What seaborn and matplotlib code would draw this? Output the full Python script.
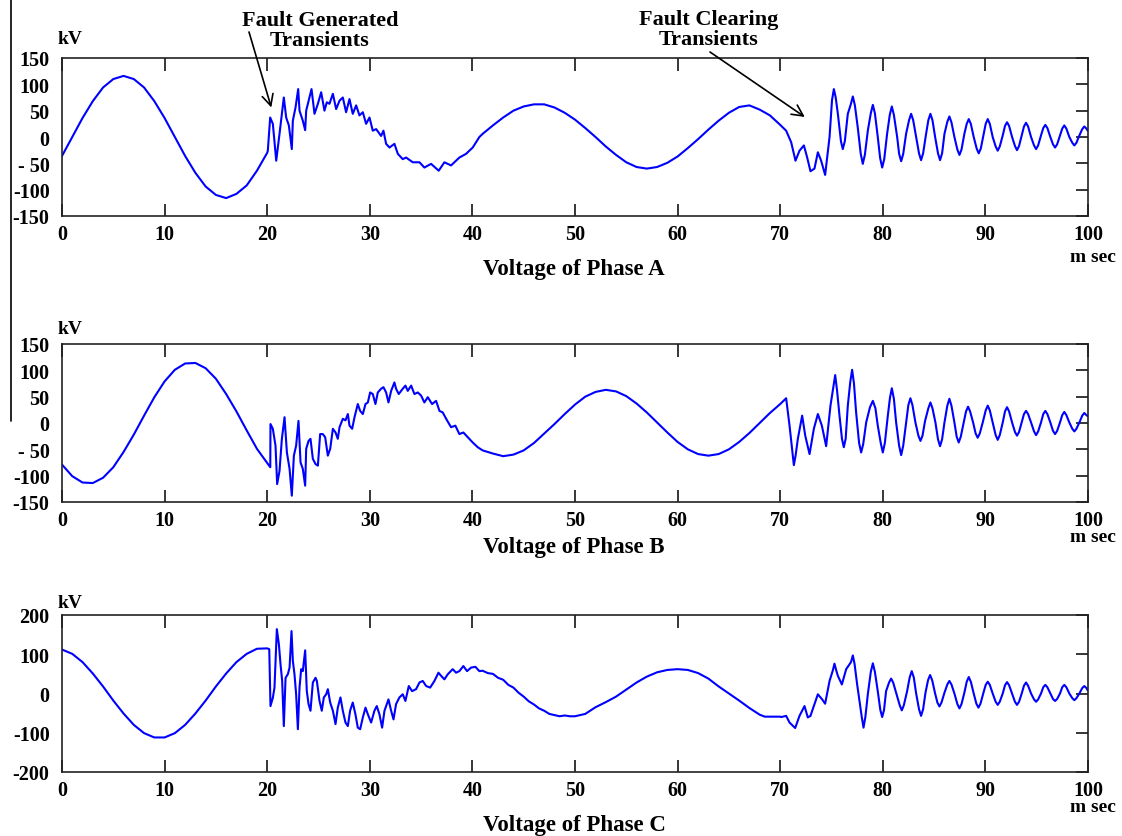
import pandas as pd
import matplotlib
matplotlib.use("Agg")
import matplotlib.pyplot as plt
from matplotlib.lines import Line2D
import seaborn as sns

# values: (time in ms, voltage in kV)
phase_a = [
    (0, -36), (1, 0), (2, 36), (3, 68), (4, 94), (5, 110), (6, 116), (7, 110), (8, 94), (9, 68),
    (10, 36), (11, 0), (12, -36), (13, -68), (14, -94), (15, -110), (16, -116), (17, -108),
    (18, -92), (19, -64), (20, -30), (20.06, -26),
    # fault generated transients
    (20.29, 37), (20.55, 25), (20.88, -45), (21.2, 6), (21.62, 75), (21.85, 37), (22.11, 22),
    (22.4, -23), (22.5, 31), (22.76, 56), (23.02, 91), (23.15, 50), (23.47, 31), (23.7, 13),
    (23.8, 50), (24.12, 75), (24.32, 91), (24.61, 44), (24.94, 63), (25.26, 85), (25.58, 50),
    (25.81, 66), (26.07, 63), (26.4, 82), (26.72, 53), (27.05, 69), (27.37, 75), (27.69, 47),
    (28.02, 72), (28.34, 44), (28.67, 60), (28.99, 41), (29.32, 47), (29.64, 25), (29.97, 37),
    (30.29, 12), (30.62, 15), (31.1, 2), (31.33, 12), (31.59, -13), (31.92, -20), (32.4, -13),
    (32.73, -32), (33.21, -42), (33.54, -39), (34.19, -48), (34.84, -48), (35.32, -58),
    (35.97, -51), (36.72, -64), (37.27, -48), (37.92, -54), (38.73, -39), (39.38, -32),
    (40.03, -20), (40.68, 0),
    (41, 6), (42, 22), (43, 37), (44, 50), (45, 58), (46, 62), (47, 62), (48, 56), (49, 46),
    (50, 33), (51, 17), (52, 0), (53, -18), (54, -34), (55, -48), (56, -57), (57, -60),
    (58, -57), (59, -49), (60, -37), (61, -21), (62, -4), (63, 14), (64, 31), (65, 46),
    (66, 57), (67, 60), (68, 52), (69, 41), (70, 23), (70.58, 12),
    # fault clearing transients
    (71.07, -10), (71.49, -45), (71.88, -26), (72.31, -16), (72.63, -39), (72.95, -65),
    (73.34, -60), (73.67, -29), (73.99, -45), (74.38, -72), (74.81, 0), (75.23, 91),
    (75.62, 44), (76.1, -23), (76.59, 44), (77.08, 77), (77.56, 18), (78.05, -51), (78.54, 12),
    (79.03, 61), (79.51, 0), (79.94, -58), (80.42, 6), (80.88, 58), (81.4, 0), (81.79, -46),
    (82.27, 6), (82.76, 44), (83.25, 0), (83.73, -44), (84.22, 6), (84.64, 44), (85.1, 0),
    (85.58, -44), (86.01, 6), (86.49, 39), (86.98, 0), (87.47, -34), (87.95, 6), (88.38, 34),
    (88.86, 0), (89.35, -31), (89.84, 6), (90.23, 34), (90.71, 0), (91.2, -26), (91.69, 3),
    (92.11, 28), (92.6, 0), (93.08, -25), (93.54, 3), (93.96, 27), (94.45, 0), (94.94, -23),
    (95.42, 3), (95.84, 23), (96.33, 0), (96.79, -20), (97.27, 3), (97.69, 22), (98.18, 0),
    (98.67, -16), (99.16, 3), (99.64, 20), (99.97, 12),
]
# points read on the rounded crests of the ringing
phase_a_crests = [
    (75.05, 70), (75.41, 75), (75.92, -8), (76.3, -8), (76.88, 62), (77.28, 60), (77.85, -32),
    (78.25, -34), (78.83, 45), (79.23, 45), (79.74, -40), (80.14, -42), (80.68, 42), (81.08, 42),
    (81.59, -32), (81.99, -32), (82.56, 32), (82.96, 32), (83.53, -31), (83.93, -31),
    (84.44, 32), (84.84, 32), (85.38, -31), (85.78, -31), (86.29, 29), (86.69, 28),
    (87.27, -24), (87.67, -24), (88.18, 25), (88.58, 25), (89.15, -22), (89.55, -22),
    (90.03, 25), (90.43, 25), (91.0, -18), (91.4, -18), (91.91, 21), (92.31, 21), (92.88, -17),
    (93.28, -17), (93.76, 20), (94.16, 20), (94.74, -16), (95.14, -16), (95.64, 17), (96.04, 17),
    (96.59, -14), (96.99, -14), (97.49, 16), (97.89, 16), (98.47, -11), (98.87, -11),
    (99.44, 15), (99.84, 16),
]

phase_b = [
    (0, -79), (1, -101), (2, -113), (3, -114), (4, -104), (5, -84), (6, -55), (7, -22), (8, 14),
    (9, 49), (10, 79), (11, 101), (12, 113), (13, 114), (14, 104), (15, 84), (16, 55), (17, 22),
    (18, -14), (19, -49), (20, -76), (20.3, -84),
    (20.32, -2), (20.55, -11), (20.81, -43), (20.97, -116), (21.2, -91), (21.43, -30),
    (21.69, 11), (21.92, -56), (22.18, -87), (22.4, -138), (22.6, -62), (22.82, -43), (23.05, 4),
    (23.25, -75), (23.47, -87), (23.7, -119), (23.8, -49), (24.03, -34), (24.22, -30),
    (24.45, -68), (24.71, -78), (24.94, -81), (25.16, -21), (25.42, -21), (25.65, -27),
    (25.91, -62), (26.14, -49), (26.4, -11), (26.66, -18), (26.88, -30), (27.05, -8), (27.37, 8),
    (27.63, 5), (27.86, 17), (28.02, -5), (28.28, -11), (28.51, 11), (28.83, 36), (29.06, 23),
    (29.32, 17), (29.58, 36), (29.81, 39), (30.03, 58), (30.29, 55), (30.55, 36), (30.78, 58),
    (31.1, 65), (31.33, 68), (31.59, 58), (31.82, 39), (32.08, 61), (32.4, 77), (32.56, 65),
    (32.82, 55), (33.21, 65), (33.47, 71), (33.7, 61), (34.03, 71), (34.35, 55), (34.68, 58),
    (35.0, 52), (35.32, 39), (35.65, 49), (36.07, 36), (36.46, 42), (36.79, 23), (37.11, 20),
    (37.44, 8), (37.92, -8), (38.34, -5), (38.73, -21), (39.12, -18), (39.55, -27), (40.03, -37),
    (40.52, -46),
    (41, -52), (42, -58), (43, -63), (44, -60), (45, -52), (46, -38), (47, -20), (48, -2),
    (49, 17), (50, 35), (51, 50), (52, 59), (53, 63), (54, 60), (55, 51), (56, 37), (57, 20),
    (58, 1), (59, -18), (60, -36), (61, -50), (62, -59), (63, -62), (64, -59), (65, -50),
    (66, -36), (67, -19), (68, 0), (69, 19), (70, 36), (70.58, 47),
    (70.91, -5), (71.33, -80), (71.5, -62), (71.72, -30), (72.14, 14), (72.44, -24), (72.86, -59),
    (73.28, -11), (73.67, 17), (74.06, -5), (74.48, -44), (74.9, 33), (75.36, 91), (75.78, 14),
    (76.2, -46), (76.59, 33), (77.01, 101), (77.4, 20), (77.89, -56), (78.38, 1), (79.03, 42),
    (79.51, -5), (80.0, -56), (80.49, 14), (80.88, 66), (81.3, 1), (81.79, -61), (82.27, 1),
    (82.69, 47), (83.18, 1), (83.67, -34), (84.12, 4), (84.64, 39), (85.13, 1), (85.58, -44),
    (86.01, 1), (86.49, 46), (86.98, 1), (87.4, -37), (87.89, 1), (88.31, 31), (88.8, 1),
    (89.25, -28), (89.74, 1), (90.23, 33), (90.71, 1), (91.2, -32), (91.69, 1), (92.11, 30),
    (92.6, 1), (93.08, -24), (93.54, 1), (93.96, 23), (94.45, 1), (94.94, -23), (95.42, 1),
    (95.84, 23), (96.33, 1), (96.79, -21), (97.27, 1), (97.69, 21), (98.18, 1), (98.67, -16),
    (99.16, 1), (99.64, 19), (99.97, 13),
]
phase_b_crests = [
    (75.18, 68), (75.54, 62), (76.02, -30), (76.38, -30), (76.83, 78), (77.19, 75),
    (77.69, -38), (78.09, -40), (78.75, 30), (79.28, 28), (79.8, -38), (80.2, -38), (80.7, 48),
    (81.08, 46), (81.59, -43), (81.99, -43), (82.49, 34), (82.89, 34), (83.47, -24),
    (83.87, -24), (84.44, 28), (84.84, 28), (85.38, -31), (85.78, -31), (86.29, 33), (86.69, 33),
    (87.2, -26), (87.6, -26), (88.11, 22), (88.51, 22), (89.05, -20), (89.45, -20), (90.03, 24),
    (90.43, 24), (91.0, -23), (91.4, -23), (91.91, 22), (92.31, 22), (92.88, -17), (93.28, -17),
    (93.76, 17), (94.16, 17), (94.74, -16), (95.14, -16), (95.64, 17), (96.04, 17), (96.59, -15),
    (96.99, -15), (97.49, 15), (97.89, 15), (98.47, -11), (98.87, -11), (99.44, 14), (99.84, 15),
]

phase_c = [
    (0, 112), (1, 101), (2, 80), (3, 51), (4, 18), (5, -18), (6, -51), (7, -80), (8, -101),
    (9, -112), (10, -112), (11, -101), (12, -80), (13, -51), (14, -18), (15, 18), (16, 51),
    (17, 80), (18, 101), (19, 114), (20, 115), (20.2, 113),
    (20.32, -32), (20.55, -11), (20.71, 15), (20.94, 164), (21.14, 125), (21.3, 74), (21.46, 32),
    (21.62, -83), (21.79, 40), (22.01, 49), (22.18, 66), (22.37, 159), (22.5, 83), (22.66, 49),
    (22.82, -2), (22.99, -91), (23.15, 15), (23.31, 62), (23.47, 57), (23.7, 110), (23.86, 6),
    (24.03, -27), (24.22, -44), (24.45, 28), (24.71, 40), (24.84, 32), (25.1, -19), (25.32, -44),
    (25.52, -10), (25.75, -2), (25.91, 11), (26.14, -23), (26.4, -44), (26.66, -78), (26.88, -36),
    (27.14, -10), (27.37, -44), (27.63, -74), (27.86, -83), (28.08, -44), (28.34, -23),
    (28.6, -53), (28.83, -87), (29.06, -91), (29.32, -61), (29.58, -36), (29.81, -53),
    (30.13, -74), (30.45, -44), (30.68, -32), (30.94, -53), (31.2, -87), (31.43, -44),
    (31.82, -15), (32.08, -44), (32.31, -66), (32.56, -27), (32.89, -10), (33.21, -2),
    (33.47, -19), (33.8, 19), (34.12, 6), (34.51, 11), (34.84, 28), (35.16, 32), (35.49, 19),
    (35.88, 15), (36.3, 32), (36.69, 53), (36.95, 45), (37.27, 36), (37.6, 49), (38.08, 62),
    (38.41, 53), (38.73, 57), (39.12, 70), (39.48, 57), (39.87, 66), (40.29, 68), (40.68, 57),
    (41, 58), (41.5, 52), (42, 50), (42.5, 40), (43, 35), (43.5, 22), (44, 15), (44.5, 2),
    (45, -8), (45.5, -20), (46, -28), (46.5, -38), (47, -44), (47.5, -52), (48, -55),
    (48.5, -58), (49, -56), (49.5, -58), (50, -58), (50.5, -55), (51, -52), (52, -35),
    (53, -22), (54, -8), (55, 10), (56, 28), (57, 43), (58, 54), (59, 60), (60, 62), (61, 60),
    (62, 52), (63, 38), (64, 18), (65, 0), (66, -18), (67, -37), (68, -54), (68.5, -59),
    (69, -59), (70, -59), (70.1, -60), (70.58, -57),
    (70.91, -74), (71.46, -88), (71.88, -57), (72.37, -32), (72.69, -61), (72.95, -57),
    (73.34, -27), (73.67, -2), (74.09, -15), (74.38, -26), (74.81, 32), (75.29, 76), (75.62, 45),
    (76.01, 23), (76.43, 62), (77.08, 97), (77.5, 23), (78.12, -87), (78.54, -2), (79.03, 77),
    (79.51, 6), (79.94, -60), (80.32, 6), (80.81, 38), (81.3, 2), (81.85, -43), (82.37, 6),
    (82.82, 57), (83.25, 0), (83.73, -57), (84.16, 2), (84.61, 47), (85.1, 0), (85.52, -33),
    (86.01, 2), (86.49, 32), (86.98, 0), (87.47, -38), (87.95, 2), (88.38, 42), (88.86, 0),
    (89.32, -36), (89.81, 2), (90.23, 30), (90.71, 0), (91.2, -29), (91.69, 0), (92.11, 29),
    (92.6, 0), (93.08, -29), (93.54, 0), (93.96, 28), (94.45, 0), (94.94, -21), (95.42, 0),
    (95.84, 22), (96.33, 0), (96.79, -19), (97.27, 0), (97.69, 22), (98.18, 0), (98.67, -17),
    (99.16, 0), (99.64, 19), (99.97, 8),
]
phase_c_crests = [
    (75.12, 58), (75.45, 60), (76.9, 80), (77.25, 75), (77.95, -60), (78.3, -60), (78.83, 55),
    (79.23, 55), (79.76, -42), (80.12, -42), (80.61, 28), (81.01, 28), (81.65, -30), (82.05, -30),
    (82.62, 41), (83.02, 41), (83.53, -40), (83.93, -40), (84.41, 34), (84.81, 34), (85.32, -23),
    (85.72, -23), (86.29, 23), (86.69, 23), (87.27, -27), (87.67, -27), (88.18, 30), (88.58, 30),
    (89.12, -26), (89.52, -26), (90.03, 22), (90.43, 22), (91.0, -21), (91.4, -21), (91.91, 21),
    (92.31, 21), (92.88, -21), (93.28, -21), (93.76, 20), (94.16, 20), (94.74, -15), (95.14, -15),
    (95.64, 16), (96.04, 16), (96.59, -14), (96.99, -14), (97.49, 16), (97.89, 16), (98.47, -12),
    (98.87, -12), (99.44, 14), (99.84, 14),
]

x_ticks = list(range(0, 101, 10))
yticks_ab = [-150, -100, -50, 0, 50, 100, 150]
ylabels_ab = ["-150", "-100", "- 50", "0", "50", "100", "150"]
yticks_c = [-200, -100, 0, 100, 200]
ylabels_c = ["-200", "-100", "0", "100", "200"]
titles = ["Voltage of Phase A", "Voltage of Phase B", "Voltage of Phase C"]

sns.set_theme(style="white")
plt.rcParams["font.family"] = ["Liberation Serif", "DejaVu Serif"]
plt.rcParams["font.weight"] = "bold"
plt.rcParams["text.color"] = "black"

W, H = 1122, 837
fig = plt.figure(figsize=(W / 100, H / 100), dpi=100)


def box(left, top, right, bottom):
    return [left / W, 1 - bottom / H, (right - left) / W, (bottom - top) / H]


def fpx(x, y):
    return x / W, 1 - y / H


panels = [
    (phase_a + phase_a_crests, box(62, 59, 1088, 217), (-150, 150), yticks_ab, ylabels_ab, 39, 270, 258),
    (phase_b + phase_b_crests, box(62, 345, 1088, 503), (-150, 150), yticks_ab, ylabels_ab, 330, 548, 538),
    (phase_c + phase_c_crests, box(62, 616, 1088, 773), (-200, 200), yticks_c, ylabels_c, 604, 826, 808),
]

axes = []
for (pts, rect, ylim, yt, yl, kv_y, title_y, msec_y), title in zip(panels, titles):
    ax = fig.add_axes(rect)
    df = pd.DataFrame(pts, columns=["ms", "kV"]).sort_values("ms")
    sns.lineplot(data=df, x="ms", y="kV", ax=ax, color="#0000ff", lw=1.5,
                 estimator=None, sort=False)
    ax.set_xlim(0, 100)
    ax.set_ylim(*ylim)
    ax.set_xticks(x_ticks)
    ax.set_xticklabels([str(t) for t in x_ticks])
    ax.set_yticks(yt)
    ax.set_yticklabels(yl)
    ax.set_xlabel("")
    ax.set_ylabel("")
    ax.tick_params(axis="x", direction="in", top=True, bottom=True, length=9, width=1.1,
                   pad=6, labelsize=14.5, colors="black")
    ax.tick_params(axis="y", direction="in", left=False, right=True, labelleft=True,
                   length=9, width=1.1, pad=9, labelsize=14.5, colors="black")
    for lab in ax.get_xticklabels() + ax.get_yticklabels():
        lab.set_fontweight("bold")
    for sp in ax.spines.values():
        sp.set_color("#222222")
        sp.set_linewidth(1.2)
    fig.text(*fpx(70, kv_y), "kV", ha="center", va="center", fontsize=14, fontweight="bold")
    fig.text(*fpx(574, title_y), title, ha="center", va="center", fontsize=16.5, fontweight="bold")
    fig.text(*fpx(1093, msec_y), "m sec", ha="center", va="center", fontsize=14, fontweight="bold")
    axes.append(ax)

ax1 = axes[0]
fig.text(*fpx(320, 31), "Fault Generated\nTransients", ha="center", va="center",
         fontsize=16, fontweight="bold", linespacing=1.0)
fig.text(*fpx(709, 30), "Fault Clearing\nTransients", ha="center", va="center",
         fontsize=16, fontweight="bold", linespacing=1.0)
arrow = dict(arrowstyle="->", color="black", lw=1.2, mutation_scale=20, shrinkA=0, shrinkB=0)
ax1.annotate("", xy=(20.4, 56), xycoords="data", xytext=fpx(249, 33),
             textcoords="figure fraction", arrowprops=arrow, annotation_clip=False)
ax1.annotate("", xy=(72.4, 38), xycoords="data", xytext=fpx(710, 53),
             textcoords="figure fraction", arrowprops=arrow, annotation_clip=False)

# stray vertical rule at the left edge of the scan
fig.add_artist(Line2D([11 / W, 11 / W], [1, 1 - 422 / H], transform=fig.transFigure,
                      color="black", lw=1.2))

fig.savefig("out.png", dpi=100)
